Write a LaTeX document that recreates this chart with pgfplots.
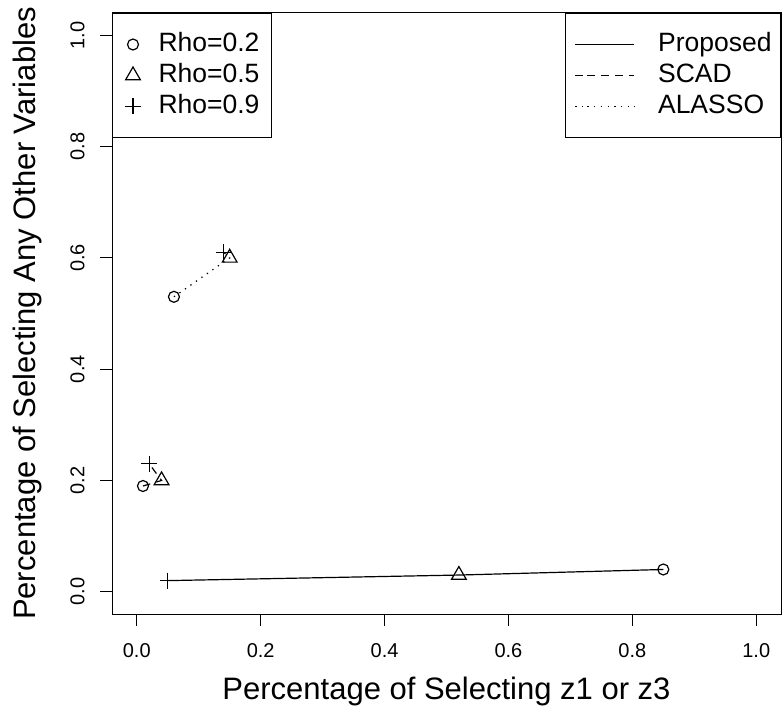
\documentclass[border=0pt]{standalone}
\usepackage{fontspec}
\setmainfont{Liberation Sans}
\usepackage{pgfplots}
\pgfplotsset{compat=1.18}
\begin{document}
\begin{tikzpicture}
\path[use as bounding box] (0pt,0pt) rectangle (783pt,715pt);
\pgfplotsset{
  common/.style={
    at={(112pt,101pt)}, anchor=south west,
    scale only axis, width=669pt, height=601pt,
    xmin=-0.04, xmax=1.04, ymin=-0.04, ymax=1.04,
  }
}
\begin{axis}[common, clip=false,
  xtick={0,0.2,0.4,0.6,0.8,1.0},
  ytick={0,0.2,0.4,0.6,0.8,1.0},
  xtick pos=bottom, ytick pos=left,
  xtick align=outside, ytick align=outside,
  major tick length=12pt,
  major tick style={draw=black, line width=1.2pt},
  axis line style={line width=1pt},
  /pgf/number format/.cd, fixed, fixed zerofill, precision=1, assume math mode=true,
  /pgfplots/.cd,
  ticklabel style={font=\fontsize{20}{22}\selectfont},
  xticklabel style={yshift=-14pt},
  yticklabel style={rotate=90, anchor=south, yshift=12pt},
  xlabel={Percentage of Selecting z1 or z3},
  ylabel={Percentage of Selecting Any Other Variables},
  label style={font=\fontsize{31}{34}\selectfont},
  xlabel style={at={(0.5,0)}, anchor=center, yshift=-77pt},
  ylabel style={at={(0,0.5)}, anchor=center, yshift=85pt},
  legend style={at={(0,1)}, anchor=north west, draw=black, line width=1pt,
    font=\fontsize{26.5}{30}\selectfont, inner xsep=12.5pt, inner ysep=19pt,
    row sep=7pt, column sep=17.5pt, cells={anchor=west},
    nodes={inner sep=0pt, text height=19pt, text depth=5pt}},
  legend cell align=left,
]
% method lines (points ordered rho 0.2, 0.5, 0.9)
\addplot[black, line width=1.2pt, forget plot] coordinates {(0.85,0.04) (0.52,0.03) (0.05,0.02)};
\addplot[black, line width=1.2pt, dash pattern=on 7.5pt off 6.5pt, forget plot] coordinates {(0.01,0.19) (0.04,0.20) (0.02,0.23)};
\addplot[black, line width=1.2pt, dash pattern=on 1.3pt off 5.4pt, forget plot] coordinates {(0.06,0.53) (0.15,0.60) (0.14,0.61)};
% markers by rho
\addplot[only marks, mark=o, mark size=5.5pt, mark options={line width=1.2pt, fill=white, draw=black}, forget plot] coordinates {(0.85,0.04) (0.01,0.19) (0.06,0.53)};
\addplot[only marks, mark=triangle, mark size=8.5pt, mark options={line width=1.2pt, fill=none, draw=black}, forget plot] coordinates {(0.52,0.03) (0.04,0.20) (0.15,0.60)};
\addplot[only marks, mark=+, mark size=8pt, mark options={line width=1.2pt, draw=black}, forget plot] coordinates {(0.05,0.02) (0.02,0.23) (0.14,0.61)};
\addlegendimage{only marks, mark=o, mark size=5.5pt, mark options={line width=1.2pt, draw=black}}
\addlegendentry{Rho=0.2}
\addlegendimage{only marks, mark=triangle, mark size=8.5pt, mark options={line width=1.2pt, draw=black}}
\addlegendentry{Rho=0.5}
\addlegendimage{only marks, mark=+, mark size=8pt, mark options={line width=1.2pt, draw=black}}
\addlegendentry{Rho=0.9}
% explicit outside tick marks (R style)
\draw[line width=1.2pt] (axis cs:0,-0.04) -- ++(0pt,-12pt);
\draw[line width=1.2pt] (axis cs:0.2,-0.04) -- ++(0pt,-12pt);
\draw[line width=1.2pt] (axis cs:0.4,-0.04) -- ++(0pt,-12pt);
\draw[line width=1.2pt] (axis cs:0.6,-0.04) -- ++(0pt,-12pt);
\draw[line width=1.2pt] (axis cs:0.8,-0.04) -- ++(0pt,-12pt);
\draw[line width=1.2pt] (axis cs:1.0,-0.04) -- ++(0pt,-12pt);
\draw[line width=1.2pt] (axis cs:-0.04,0) -- ++(-12pt,0pt);
\draw[line width=1.2pt] (axis cs:-0.04,0.2) -- ++(-12pt,0pt);
\draw[line width=1.2pt] (axis cs:-0.04,0.4) -- ++(-12pt,0pt);
\draw[line width=1.2pt] (axis cs:-0.04,0.6) -- ++(-12pt,0pt);
\draw[line width=1.2pt] (axis cs:-0.04,0.8) -- ++(-12pt,0pt);
\draw[line width=1.2pt] (axis cs:-0.04,1.0) -- ++(-12pt,0pt);
\end{axis}
\begin{axis}[common, hide axis,
  legend style={at={(1,1)}, anchor=north east, draw=black, line width=1pt,
    font=\fontsize{26.5}{30}\selectfont, inner xsep=9pt, inner ysep=19pt,
    row sep=7pt, column sep=23pt, cells={anchor=west},
    nodes={inner sep=0pt, text height=19pt, text depth=5pt}},
  legend cell align=left,
  legend image code/.code={\path (0pt,0pt) -- (12pt,0pt); \draw[#1] (12pt,0pt) -- (59pt,0pt);},
]
\addlegendimage{black, line width=1.2pt}
\addlegendentry{Proposed}
\addlegendimage{black, line width=1.2pt, dash pattern=on 7.5pt off 6.5pt}
\addlegendentry{SCAD}
\addlegendimage{black, line width=1.2pt, dash pattern=on 1.3pt off 5.4pt}
\addlegendentry{ALASSO}
\end{axis}
\end{tikzpicture}
\end{document}
